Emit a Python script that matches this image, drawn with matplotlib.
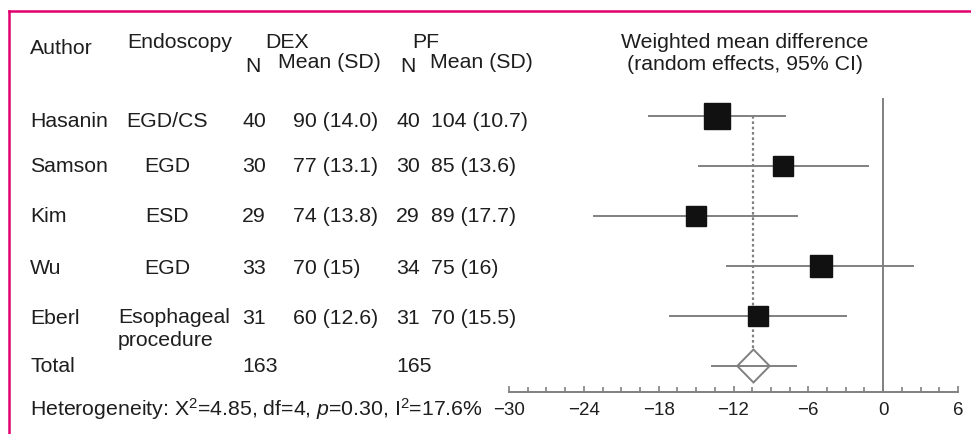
import matplotlib
matplotlib.use("Agg")
import matplotlib.pyplot as plt

# ── Data ────────────────────────────────────────
authors = ["Hasanin", "Samson", "Kim", "Wu", "Eberl"]
endoscopy = ["EGD/CS", "EGD", "ESD", "EGD", "Esophageal\nprocedure"]
dex_n = [40, 30, 29, 33, 31]
dex_mean_sd = ["90 (14.0)", "77 (13.1)", "74 (13.8)", "70 (15)", "60 (12.6)"]
pf_n = [40, 30, 29, 34, 31]
pf_mean_sd = ["104 (10.7)", "85 (13.6)", "89 (17.7)", "75 (16)", "70 (15.5)"]
dex_total = 163
pf_total = 165

md = [-13.3, -8.0, -15.0, -5.0, -10.0]
ci_low = [-18.8, -14.8, -23.2, -12.5, -17.1]
ci_high = [-7.9, -1.2, -6.9, 2.4, -3.0]
weights = [30, 18, 17, 20, 19]

pooled_md = -10.4
pooled_low = -11.7
pooled_high = -9.1
pooled_pi_low = -13.7
pooled_pi_high = -7.0

xticks = [-30, -24, -18, -12, -6, 0, 6]
heterogeneity = "Heterogeneity: X$^2$=4.85, df=4, $p$=0.30, I$^2$=17.6%"

W, H = 971, 434
plt.rcParams["font.family"] = ["Liberation Sans", "DejaVu Sans"]
plt.rcParams["mathtext.fontset"] = "custom"
plt.rcParams["mathtext.rm"] = "Liberation Sans"
plt.rcParams["mathtext.it"] = "Liberation Sans:italic"

TXT = "#1e1e1e"
GREY = "#808080"
FS = 15.3

fig = plt.figure(figsize=(W / 100, H / 100), dpi=100)


def px(x, y):
    # pixel position (from top-left) -> figure fraction
    return x / W, 1 - y / H


def put(x, y, s, ha="left", va="center", **kw):
    fx, fy = px(x, y)
    fig.text(fx, fy, s, ha=ha, va=va, fontsize=kw.pop("fontsize", FS), color=TXT, **kw)


# magenta frame (top and left only)
fig.add_artist(plt.Line2D([9 / W, 1], [1 - 11 / H] * 2, color="#e0006f", lw=1.8,
                          transform=fig.transFigure))
fig.add_artist(plt.Line2D([9 / W] * 2, [0, 1 - 11 / H], color="#e0006f", lw=1.8,
                          transform=fig.transFigure))

# ── table on the left ──
put(30, 48, "Author")
put(127, 43, "Endoscopy")
put(265, 43, "DEX")
put(412, 43, "PF")
put(245, 66, "N")
put(278, 62, "Mean (SD)")
put(400, 66, "N")
put(430, 62, "Mean (SD)")
put(745, 43, "Weighted mean difference", ha="center")
put(745, 65, "(random effects, 95% CI)", ha="center")

row_px = [121, 167, 217, 268, 318]
for i, yy in enumerate(row_px):
    put(30, yy, authors[i])
    if "\n" in endoscopy[i]:
        put(118, yy - 10, endoscopy[i], va="top", linespacing=1.25)
    else:
        put(167, yy, endoscopy[i], ha="center")
    put(242, yy, str(dex_n[i]))
    put(293, yy, dex_mean_sd[i])
    put(396, yy, str(pf_n[i]))
    put(431, yy, pf_mean_sd[i])

put(30, 366, "Total")
put(242, 366, str(dex_total))
put(396, 366, str(pf_total))
put(30, 409, heterogeneity)

# ── forest plot ──
x0, x1 = 509, 958
ytop, ybot = 91, 392
ax = fig.add_axes([x0 / W, 1 - ybot / H, (x1 - x0) / W, (ybot - ytop) / H])
ax.set_xlim(-30, 6)
ax.set_ylim(5.52, -0.5)

rows = list(range(len(authors)))
total_row = len(authors)

ax.plot([0, 0], [-0.34, 5.52], color=GREY, lw=1.4, zorder=1)
ax.plot([pooled_md, pooled_md], [0, total_row - 0.33], color=GREY, lw=1.6,
        linestyle=(0, (1.2, 1.2)), zorder=2)

for r, m, lo, hi, w in zip(rows, md, ci_low, ci_high, weights):
    ax.plot([lo, hi], [r, r], color=GREY, lw=1.4, zorder=1)
    ax.plot(m, r, marker="s", color="#111111", markersize=3.42 * w ** 0.5,
            linestyle="none", zorder=3)

ax.plot([pooled_pi_low, pooled_pi_high], [total_row, total_row], color=GREY, lw=1.4, zorder=1)
ax.fill([pooled_low, pooled_md, pooled_high, pooled_md],
        [total_row, total_row - 0.33, total_row, total_row + 0.33],
        facecolor="none", edgecolor=GREY, lw=1.4, zorder=2)

for side in ["top", "right", "left"]:
    ax.spines[side].set_visible(False)
ax.spines["bottom"].set_color(GREY)
ax.spines["bottom"].set_linewidth(1.4)
ax.set_yticks([])
ax.set_xticks(xticks)
ax.set_xticks([t for t in [-30 + 1.5 * k for k in range(25)] if t not in xticks], minor=True)
ax.tick_params(axis="x", which="both", direction="in", color=GREY, width=1.2,
               labelsize=13.5, labelcolor=TXT, pad=7)
ax.tick_params(axis="x", which="major", length=4)
ax.tick_params(axis="x", which="minor", length=3.5)
ax.patch.set_alpha(0)

fig.savefig("out.png", dpi=100)
